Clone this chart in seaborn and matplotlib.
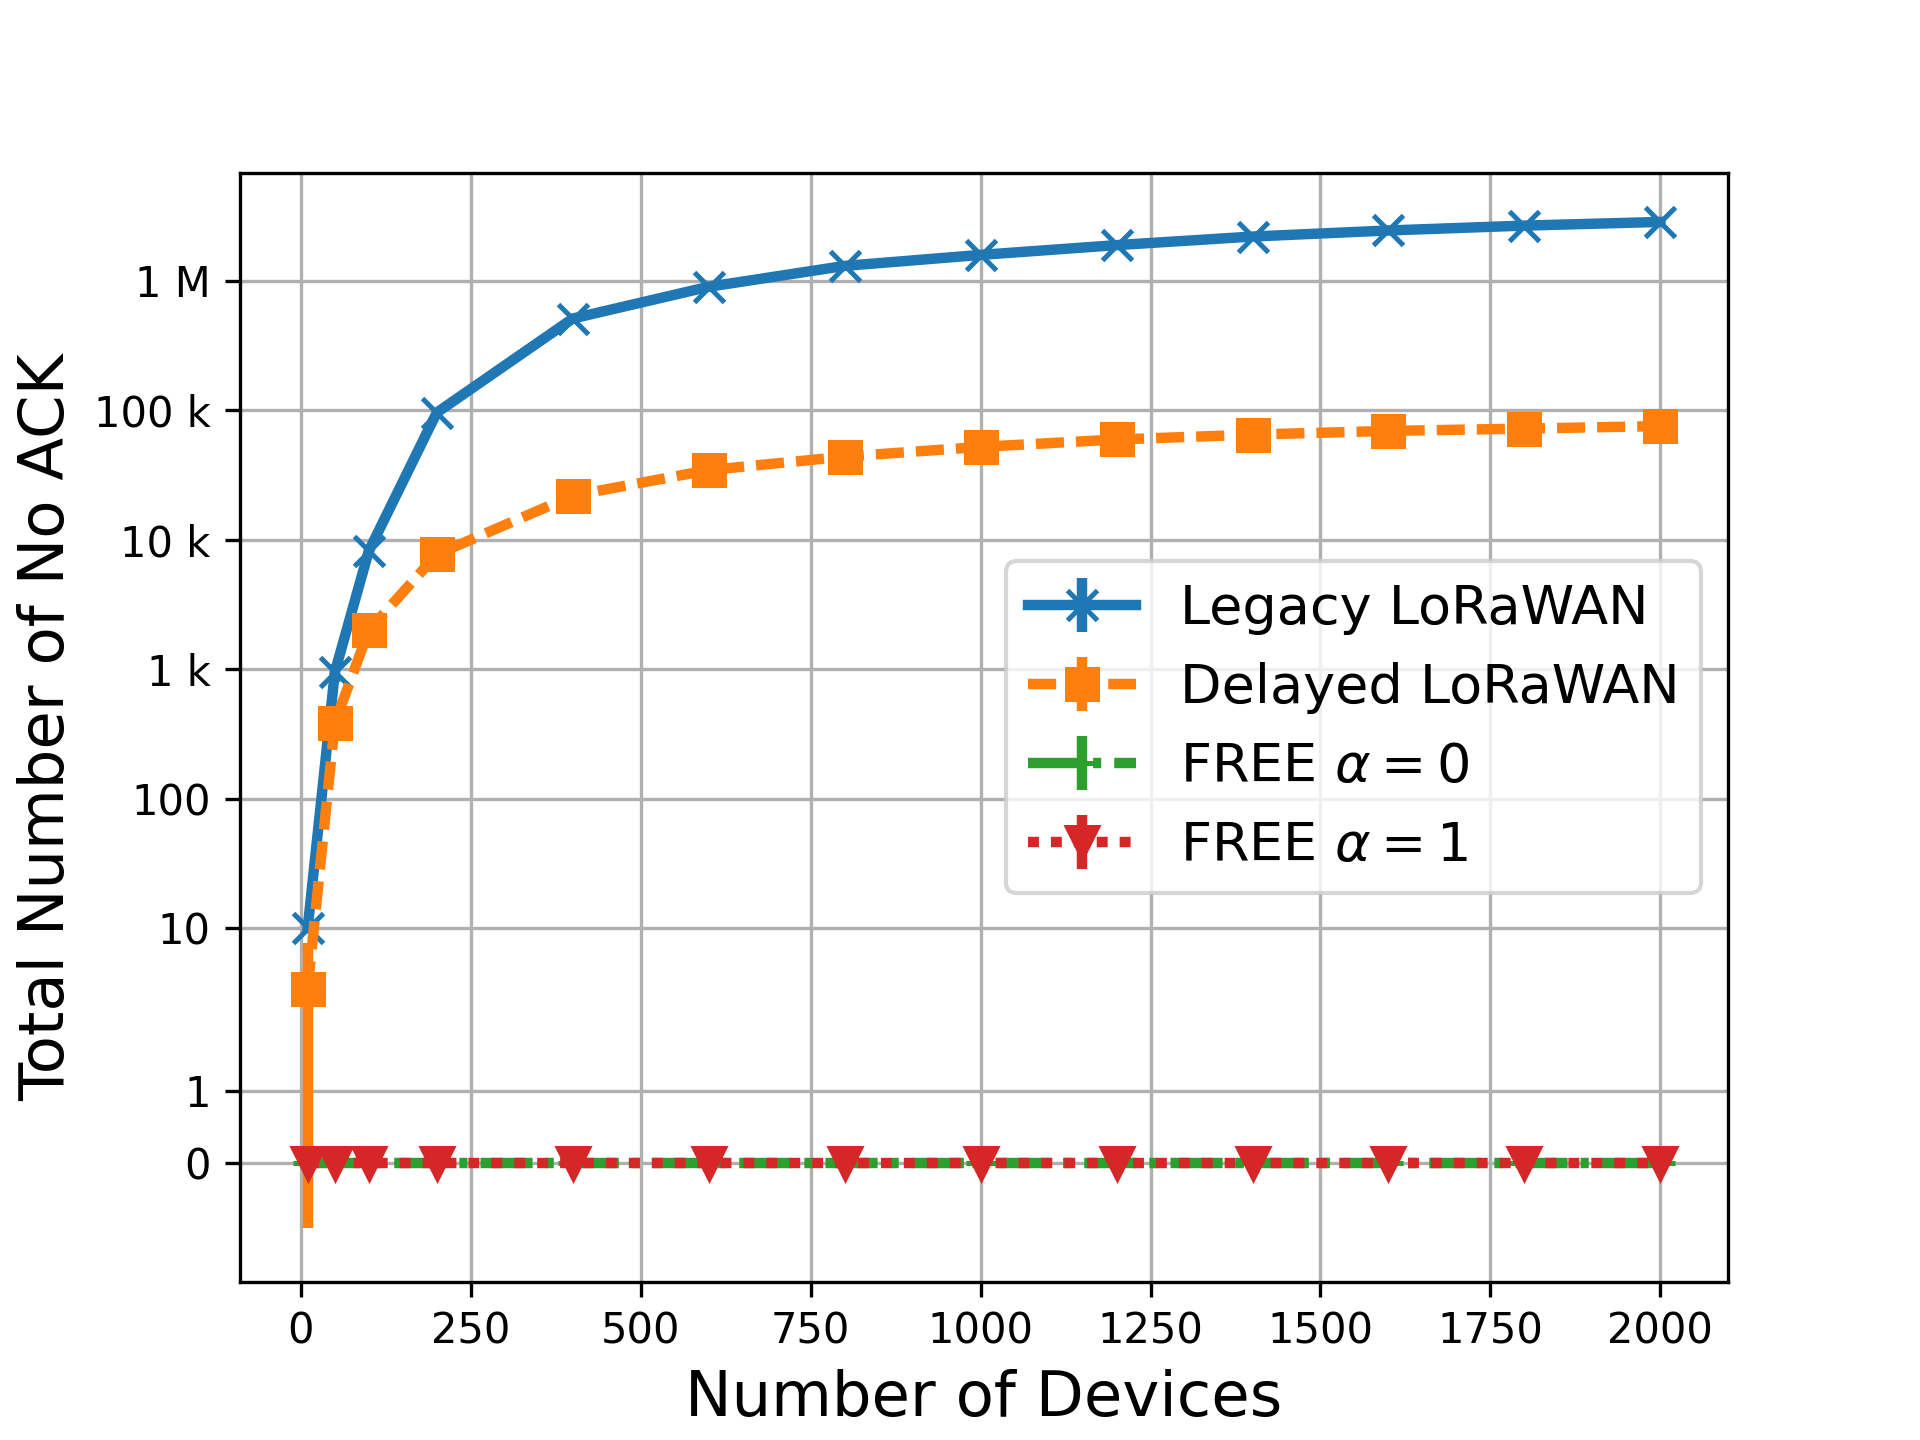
import matplotlib
matplotlib.use("Agg")
import matplotlib.pyplot as plt
from matplotlib.ticker import EngFormatter, NullLocator
import seaborn as sns

# number of devices on the x axis
devices = [10, 50, 100, 200, 400, 600, 800, 1000, 1200, 1400, 1600, 1800, 2000]

# mean number of "no ACK" events per scheme
legacy = [10, 950, 8200, 95800, 510000, 897000, 1300000, 1580000,
          1880000, 2190000, 2440000, 2660000, 2840000]
legacy_err = [0.5, 150, 600, 4000, 15000, 20000, 25000, 30000,
              30000, 35000, 35000, 40000, 40000]
delayed = [3.4, 385, 2000, 7700, 21900, 34500, 43800, 52100,
           59400, 64800, 69200, 72100, 75400]
delayed_err = [4.3, 40, 150, 500, 1200, 1500, 2000, 2200,
               2500, 2500, 2800, 2800, 3000]
free_a0 = [0] * 13
free_a1 = [0] * 13
zero_err = [0] * 13

labels = ["Legacy LoRaWAN", "Delayed LoRaWAN", r"FREE $\alpha=0$", r"FREE $\alpha=1$"]
y_ticks = [0, 1, 10, 100, 1e3, 1e4, 1e5, 1e6]

palette = sns.color_palette("tab10")
styles = [
    ("x", "-"),
    ("s", (0, (2.7, 1.15))),
    ("+", (0, (5.0, 1.25, 0.78, 1.25))),
    ("v", (0, (1.05, 1.15))),
]
series = [(legacy, legacy_err), (delayed, delayed_err),
          (free_a0, zero_err), (free_a1, zero_err)]

fig, ax = plt.subplots(figsize=(6.4, 4.8), dpi=300)

handles = []
for (vals, err), (marker, ls), color in zip(series, styles, palette):
    n_before = len(ax.lines)
    sns.lineplot(x=devices, y=vals, ax=ax, color=color, marker=marker,
                 linestyle=ls, lw=2.5, markersize=7, mec=color, mew=1.2,
                 errorbar=None, legend=False)
    line = ax.lines[n_before]
    eb = ax.errorbar(devices, vals, yerr=err, fmt="none", ecolor=color,
                     elinewidth=2.5, capsize=0)
    handles.append((line, eb))

ax.set_yscale("symlog", linthresh=2, linscale=1)
ax.set_yticks(y_ticks)
ax.yaxis.set_major_formatter(EngFormatter())
ax.yaxis.set_minor_locator(NullLocator())
ax.set_ylim(-1.65, 6.8e6)

ax.grid(True)
ax.set_xlabel("Number of Devices", fontsize=15)
ax.set_ylabel("Total Number of No ACK", fontsize=15)
ax.legend(handles, labels, loc="center right", fontsize=13)

fig.savefig("out.png", dpi=300)
